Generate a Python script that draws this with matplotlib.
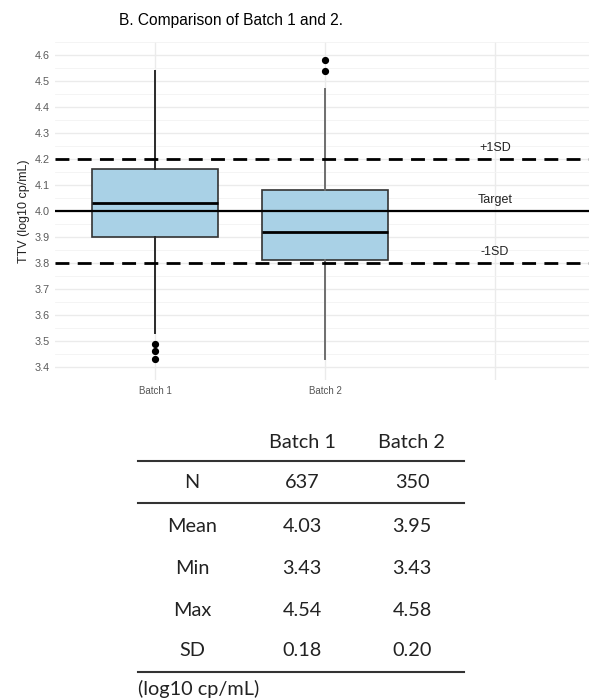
import matplotlib.pyplot as plt
from matplotlib.ticker import MultipleLocator

plt.rcParams['font.family'] = ['Liberation Sans', 'DejaVu Sans']

# box summaries read per batch (log10 cp/mL)
batches = ["Batch 1", "Batch 2"]
q1 = [3.90, 3.81]
medians = [4.03, 3.92]
q3 = [4.16, 4.08]
whisk_lo = [3.53, 3.43]
whisk_hi = [4.54, 4.47]
outliers = [[3.49, 3.46, 3.43], [4.58, 4.54]]

target = 4.0
plus_sd = 4.2
minus_sd = 3.8

# summary table
row_names = ["N", "Mean", "Min", "Max", "SD"]
batch1_col = ["637", "4.03", "3.43", "4.54", "0.18"]
batch2_col = ["350", "3.95", "3.43", "4.58", "0.20"]

fig = plt.figure(figsize=(5.89, 7.0), dpi=100)
ax = fig.add_axes([55 / 589, 1 - 380 / 700, 1 - 55 / 589, (380 - 42) / 700])

stats = []
for i, name in enumerate(batches):
    stats.append(dict(label=name, med=medians[i], q1=q1[i], q3=q3[i],
                      whislo=whisk_lo[i], whishi=whisk_hi[i], fliers=outliers[i]))

whisk_cols = ["#2a2a2a", "#6e6e6e"]
for i, s in enumerate(stats):
    ax.bxp([s], positions=[i + 1], widths=0.74, patch_artist=True,
           showcaps=False,
           boxprops=dict(facecolor="#a9d1e6", edgecolor="#333333", linewidth=1.2),
           medianprops=dict(color="black", linewidth=2.0),
           whiskerprops=dict(color=whisk_cols[i], linewidth=1.4),
           flierprops=dict(marker="o", markerfacecolor="black", markeredgecolor="black",
                           markersize=4.2),
           zorder=3)

ax.axhline(target, color="black", lw=1.6, zorder=4)
ax.axhline(plus_sd, color="black", lw=2.0, ls=(0, (5, 3)), zorder=4)
ax.axhline(minus_sd, color="black", lw=2.0, ls=(0, (5, 3)), zorder=4)
lab = dict(ha="center", va="bottom", fontsize=9, color="#222222")
ax.text(3, plus_sd + 0.02, "+1SD", **lab)
ax.text(3, target + 0.02, "Target", **lab)
ax.text(3, minus_sd + 0.02, "-1SD", **lab)

ax.set_xlim(0.412, 3.553)
ax.set_ylim(3.35, 4.65)
ax.set_xticks([1, 2, 3])
ax.set_xticklabels(batches + [""], fontsize=7, color="#555555")
ax.yaxis.set_major_locator(MultipleLocator(0.1))
ax.yaxis.set_minor_locator(MultipleLocator(0.05))
ax.set_yticklabels([f"{t:.1f}" for t in ax.get_yticks()], fontsize=7.8, color="#5a5a5a")
ax.tick_params(length=0, which="both", pad=4)
ax.grid(True, which="major", color="#ebebeb", lw=1.0, zorder=0)
ax.grid(True, which="minor", axis="y", color="#f3f3f3", lw=0.6, zorder=0)
for sp in ax.spines.values():
    sp.set_visible(False)
ax.set_ylabel("TTV (log10 cp/mL)", fontsize=9, color="#222222", labelpad=3)
ax.set_title("B. Comparison of Batch 1 and 2.", fontsize=11.2, loc="left", x=0.12, pad=12)

# summary table drawn in pixel space below the plot
tb = fig.add_axes([0, 0, 1, 300 / 700])
tb.set_xlim(0, 589)
tb.set_ylim(700, 400)
tb.axis("off")
font = dict(family="Lato", fontsize=14.3, color="#222222", ha="center", va="center")
col_x = [192, 302, 412]
tb.text(col_x[1], 442, batches[0], **font)
tb.text(col_x[2], 442, batches[1], **font)
row_y = [483, 526, 568, 610, 651]
for y, name, a, b in zip(row_y, row_names, batch1_col, batch2_col):
    tb.text(col_x[0], y, name, **font)
    tb.text(col_x[1], y, a, **font)
    tb.text(col_x[2], y, b, **font)
for y in [461, 503, 672]:
    tb.plot([138, 464], [y, y], color="#333333", lw=1.5)
tb.text(138, 689, "(log10 cp/mL)", **{**font, "ha": "left"})

fig.savefig("out.png", dpi=100)
